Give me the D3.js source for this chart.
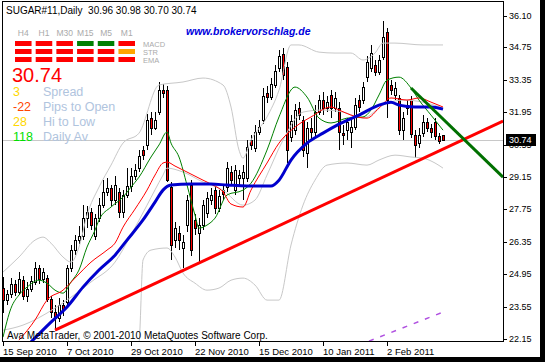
<!DOCTYPE html>
<html>
<head>
<meta charset="utf-8">
<script src="https://cdn.jsdelivr.net/npm/d3@7/dist/d3.min.js"></script>
<style>
  body { margin: 0; background: #fff; }
  text { font-family: "Liberation Sans", Arial, sans-serif; }
</style>
</head>
<body>
<div id="chart"></div>
<script>
// daily candles, bar 0 = 15 Sep 2010
const opens = [24.35, 23.83, 24.09, 24.52, 24.17, 24.69, 24.00, 24.30, 24.61, 25.21, 24.74, 24.78, 23.87, 23.31, 23.05, 23.61,
  23.74, 25.21, 25.99, 26.42, 26.59, 27.37, 27.63, 26.59, 27.37, 27.93, 28.50, 28.67, 28.15, 28.50, 27.63, 28.37,
  28.76, 29.19, 29.53, 30.31, 30.53, 31.69, 31.26, 31.95, 32.90, 32.90, 28.71, 26.42, 26.72, 26.08, 27.07, 28.80,
  27.29, 26.72, 27.07, 27.59, 28.15, 28.58, 27.80, 28.58, 28.71, 29.36, 28.58, 29.10, 29.10, 29.10, 30.74, 30.40,
  31.09, 31.61, 32.77, 32.60, 33.12, 33.85, 34.46, 33.90, 30.87, 31.17, 32.12, 31.61, 30.18, 31.26, 31.09, 31.95,
  32.47, 32.12, 32.69, 32.12, 32.12, 31.04, 31.17, 31.09, 31.30, 32.47, 32.47, 33.46, 33.85, 33.98, 33.68, 34.33,
  35.41, 33.12, 32.69, 32.56, 31.17, 32.25, 32.47, 30.96, 30.61, 31.04, 31.52, 31.26, 31.52, 30.91, 30.96];
const highs = [24.82, 24.26, 24.78, 24.69, 25.04, 24.87, 24.61, 24.87, 25.47, 25.34, 25.21, 24.91, 24.00, 23.61, 23.92, 23.83,
  25.34, 26.21, 26.64, 27.03, 27.93, 27.89, 27.80, 27.55, 28.24, 29.01, 29.10, 28.80, 29.19, 28.67, 28.58, 29.53,
  29.53, 29.71, 30.31, 30.48, 31.87, 31.95, 31.95, 33.25, 33.16, 33.07, 28.93, 27.20, 27.03, 26.64, 28.37, 29.01,
  27.55, 27.37, 28.15, 28.50, 28.67, 28.76, 28.58, 28.76, 29.79, 29.62, 29.66, 29.45, 29.66, 30.74, 30.96, 31.39,
  31.61, 32.99, 33.07, 33.42, 33.98, 34.63, 34.72, 34.11, 31.82, 32.30, 32.38, 31.78, 31.52, 31.69, 32.25, 32.69,
  32.82, 32.64, 32.90, 32.82, 32.38, 31.39, 31.69, 31.61, 32.56, 32.69, 33.25, 34.37, 34.85, 34.20, 34.41, 35.88,
  35.58, 33.33, 33.25, 32.69, 31.95, 32.47, 32.64, 31.17, 31.26, 31.82, 31.69, 31.43, 31.69, 31.04, 30.98];
const lows = [23.27, 23.61, 23.92, 24.00, 24.05, 23.83, 23.74, 24.17, 24.48, 24.52, 24.56, 23.74, 23.05, 22.53, 22.88, 23.14,
  23.61, 25.04, 25.77, 26.25, 26.42, 26.94, 26.85, 26.42, 27.20, 27.80, 28.32, 27.89, 27.93, 27.37, 27.37, 28.24,
  28.50, 29.01, 29.36, 29.88, 30.31, 30.96, 31.17, 31.82, 32.56, 28.93, 25.56, 26.08, 25.99, 25.21, 26.77, 25.73,
  26.64, 25.47, 26.85, 27.37, 27.93, 27.55, 27.63, 28.15, 28.50, 28.76, 28.37, 28.80, 28.15, 28.93, 30.31, 30.22,
  30.96, 31.43, 32.34, 32.47, 32.99, 33.68, 33.33, 29.75, 30.66, 30.96, 31.61, 30.01, 29.53, 30.74, 30.87, 31.82,
  31.82, 31.95, 31.69, 31.95, 30.31, 30.53, 30.74, 30.40, 31.17, 31.95, 32.30, 33.25, 33.68, 33.51, 33.55, 34.20,
  31.69, 32.69, 32.47, 30.96, 30.74, 31.82, 30.83, 29.96, 30.40, 30.87, 31.09, 30.83, 30.74, 30.57, 30.70];
const closes = [23.83, 24.09, 24.52, 24.17, 24.74, 24.00, 24.30, 24.65, 25.21, 24.74, 25.04, 23.87, 23.31, 23.05, 23.61, 23.40,
  25.21, 25.99, 26.42, 26.59, 27.37, 27.63, 27.07, 27.37, 27.93, 28.50, 28.67, 28.15, 28.80, 27.63, 28.37, 28.76,
  29.19, 29.45, 30.05, 30.09, 31.61, 31.26, 31.61, 32.90, 32.77, 29.01, 26.21, 26.94, 26.42, 26.34, 28.15, 25.99,
  26.94, 27.07, 27.93, 28.24, 28.37, 27.80, 28.32, 28.41, 29.53, 29.01, 29.45, 29.23, 29.36, 30.44, 30.53, 31.09,
  31.30, 32.64, 32.60, 33.16, 33.72, 34.37, 33.55, 30.31, 31.56, 32.04, 31.82, 30.31, 31.26, 31.09, 31.95, 32.47,
  32.12, 32.38, 32.12, 32.56, 31.09, 30.96, 31.52, 31.30, 32.25, 32.17, 33.03, 34.11, 34.50, 33.68, 34.20, 35.19,
  32.47, 32.90, 32.99, 31.17, 31.69, 32.12, 31.00, 30.53, 30.96, 31.52, 31.26, 31.09, 30.91, 30.70, 30.74];

// indicators as [bar, price]
const maFast = [[0, 22.23], [2, 23.48], [4, 24.05], [6, 24.39], [9, 24.69], [11, 24.56], [13, 24.26], [15, 24.13], [17, 24.61],
  [19, 25.13], [21, 26.12], [23, 26.85], [24, 27.29], [27, 27.85], [30, 28.28], [32, 28.71], [34, 29.14], [37, 30.01],
  [39, 30.53], [41, 31.09], [42, 30.61], [44, 30.01], [46, 28.80], [48, 27.50], [49, 26.94], [51, 27.07], [53, 27.37],
  [56, 28.37], [60, 28.58], [62, 28.88], [66, 30.31], [69, 31.74], [73, 33.03], [76, 32.60], [79, 31.69], [82, 31.48],
  [86, 31.69], [90, 31.74], [92, 32.04], [94, 32.69], [96, 33.33], [99, 33.46], [102, 32.99], [104, 32.47], [107, 31.82],
  [110, 31.17]];
const maMid = [[4, 22.10], [8, 22.97], [11, 23.83], [15, 24.26], [18, 24.78], [22, 25.47], [26, 25.99], [28, 26.29], [30, 26.98],
  [33, 27.76], [36, 28.58], [38, 29.23], [40, 29.75], [41, 29.79], [43, 29.62], [46, 29.36], [50, 29.01], [52, 28.84],
  [55, 28.50], [57, 27.98], [60, 27.85], [62, 28.58], [66, 29.75], [69, 30.61], [73, 31.30], [77, 31.74], [82, 32.17],
  [84, 32.04], [87, 31.82], [91, 31.69], [94, 32.12], [97, 32.56], [101, 32.47], [104, 32.56], [107, 32.38], [110, 32.17]];
const maSlow = [[7, 22.02], [12, 22.88], [16, 23.53], [20, 24.39], [24, 25.13], [28, 25.77], [31, 26.42], [35, 27.29], [38, 28.06],
  [40, 28.58], [42, 28.80], [47, 28.84], [52, 28.84], [56, 28.80], [61, 28.76], [67, 28.76], [69, 29.01], [72, 29.88],
  [76, 30.61], [80, 31.04], [84, 31.43], [89, 31.82], [94, 32.25], [97, 32.38], [99, 32.25], [103, 32.17], [107, 32.17],
  [110, 32.08]];
const bandUpper = [[0, 25.04], [4, 25.69], [8, 26.42], [10, 26.55], [12, 26.29], [15, 25.69], [17, 25.47], [19, 26.12], [21, 27.50],
  [24, 28.71], [27, 29.66], [30, 30.61], [34, 31.04], [39, 33.12], [45, 33.25], [50, 33.42], [55, 33.12], [57, 32.17],
  [59, 30.31], [60, 29.96], [62, 30.74], [66, 31.74], [69, 32.90], [72, 34.85], [74, 34.85], [79, 34.54], [83, 34.50],
  [87, 34.50], [90, 34.20], [93, 34.50], [95, 34.93], [98, 34.93], [105, 34.85], [110, 34.85]];
const bandMiddle = [[0, 22.53], [5, 22.75], [11, 23.27], [16, 23.83], [22, 24.61], [28, 25.47], [32, 26.64], [36, 27.93],
  [40, 29.23], [41, 29.53], [45, 29.36], [50, 28.93], [55, 28.58], [60, 27.93], [63, 28.15], [66, 29.23], [70, 30.74],
  [75, 31.95], [80, 32.04], [85, 31.95], [90, 31.69], [95, 32.25], [100, 32.47], [105, 32.38], [110, 32.12]];
const bandLower = [[0, 21.00], [20, 20.60], [30, 20.80], [34, 22.00], [35, 25.56], [37, 25.99], [41, 26.08], [43, 25.69],
  [45, 25.00], [48, 24.56], [51, 24.26], [54, 24.35], [57, 24.69], [60, 24.78], [63, 24.48], [66, 23.83], [69, 23.83],
  [72, 26.21], [75, 27.93], [78, 29.01], [81, 29.66], [86, 29.75], [91, 29.66], [94, 29.88], [98, 30.09], [102, 30.01],
  [105, 29.96], [108, 29.75], [110, 29.53]];
const trendUp = [[13, 22.53], [125, 31.56]];
const trendDown = [[102, 32.99], [125, 29.14]];
const purpleLine = [[91.5, 22.06], [110, 23.31]];

const dateTicks = [0, 16, 32, 48, 64, 80, 96];
const dateLabels = ['15 Sep 2010', '7 Oct 2010', '29 Oct 2010', '22 Nov 2010', '15 Dec 2010', '10 Jan 2011', '2 Feb 2011'];
const priceTicks = ['36.10', '34.75', '33.35', '31.95', '30.55', '29.15', '27.75', '26.35', '24.95', '23.55', '22.15'];
const lastPrice = 30.74;

const frames = ['H4', 'H1', 'M30', 'M15', 'M5', 'M1'];
const signalRows = ['MACD', 'STR', 'EMA'];
const signalColors = [
  ['#ff0000', '#ff0000', '#ff0000', '#008000', '#008000', '#ff0000'],
  ['#ff0000', '#ff0000', '#ff0000', '#ff0000', '#ff0000', '#ffa500'],
  ['#ff0000', '#ff0000', '#ff0000', '#ff0000', '#ff0000', '#ff0000'],
];
const statValues = ['3', '-22', '28', '118'];
const statNames = ['Spread', 'Pips to Open', 'Hi to Low', 'Daily Av'];
const statColors = ['#ffd700', '#ff4500', '#ffd700', '#00e000'];

class CandleChart {
  constructor(node) {
    this.container = d3.select(node);
    this.setupVar();
    this.setupUtils();
    this.setupDOM();
  }

  setupVar() {
    this.width = 545;
    this.height = 362;
    this.plot = { left: 2, top: 1, right: 503, bottom: 341 };
  }

  setupUtils() {
    this.x = d3.scaleLinear().domain([0, 110]).range([3, 443]);
    this.y = d3.scaleLinear().domain([22.15, 36.10]).range([339, 16]);
    this.line = d3.line()
      .x((d) => this.x(d[0]))
      .y((d) => this.y(d[1]))
      .curve(d3.curveMonotoneX);
  }

  setupDOM() {
    this.svg = this.container.append('svg')
      .attr('width', this.width)
      .attr('height', this.height)
      .style('display', 'block');
    this.svg.append('rect').attr('width', this.width).attr('height', this.height).attr('fill', '#fff');
    this.svg.append('defs').append('clipPath').attr('id', 'clip')
      .append('rect')
      .attr('x', this.plot.left + 1).attr('y', this.plot.top + 1)
      .attr('width', this.plot.right - this.plot.left - 1)
      .attr('height', this.plot.bottom - this.plot.top - 1);
    this.plots = this.svg.append('g').attr('clip-path', 'url(#clip)');
  }

  drawGraph() {
    const x = this.x;
    const y = this.y;
    const p = this.plot;

    // current price line
    this.plots.append('line')
      .attr('x1', p.left).attr('x2', p.right)
      .attr('y1', Math.round(y(lastPrice)) + 0.5).attr('y2', Math.round(y(lastPrice)) + 0.5)
      .attr('stroke', '#c8c8c8');

    const bars = d3.range(closes.length).map((i) => ({
      i, o: opens[i], h: highs[i], l: lows[i], c: closes[i],
    }));
    const candle = this.plots.selectAll('g.candle').data(bars).enter()
      .append('g').attr('class', 'candle').attr('shape-rendering', 'crispEdges');
    candle.append('rect')
      .attr('x', (d) => Math.round(x(d.i)))
      .attr('y', (d) => Math.round(y(d.h)))
      .attr('width', 1)
      .attr('height', (d) => Math.max(1, Math.round(y(d.l)) - Math.round(y(d.h))))
      .attr('fill', '#000');
    candle.append('rect')
      .attr('x', (d) => Math.round(x(d.i)) - 1)
      .attr('y', (d) => Math.round(y(Math.max(d.o, d.c))))
      .attr('width', 3)
      .attr('height', (d) => Math.max(1, Math.round(y(Math.min(d.o, d.c))) - Math.round(y(Math.max(d.o, d.c))) + 1))
      .attr('fill', '#000');
    candle.filter((d) => Math.round(y(Math.min(d.o, d.c))) - Math.round(y(Math.max(d.o, d.c))) >= 2)
      .append('rect')
      .attr('x', (d) => Math.round(x(d.i)))
      .attr('y', (d) => Math.round(y(Math.max(d.o, d.c))) + 1)
      .attr('width', 1)
      .attr('height', (d) => Math.round(y(Math.min(d.o, d.c))) - Math.round(y(Math.max(d.o, d.c))) - 1)
      .attr('fill', (d) => (d.c < d.o ? '#ff0000' : '#fff'));

    // bollinger bands
    [bandUpper, bandMiddle, bandLower].forEach((band) => {
      this.plots.append('path').attr('d', this.line(band))
        .attr('fill', 'none').attr('stroke', '#c8c8c8').attr('stroke-width', 1);
    });

    this.plots.append('path').attr('d', this.line(maFast))
      .attr('fill', 'none').attr('stroke', '#008000').attr('stroke-width', 1);
    this.plots.append('path').attr('d', this.line(maMid))
      .attr('fill', 'none').attr('stroke', '#ff0000').attr('stroke-width', 1);
    this.plots.append('path').attr('d', this.line(maSlow))
      .attr('fill', 'none').attr('stroke', '#0000cd').attr('stroke-width', 3);

    const straight = d3.line().x((d) => x(d[0])).y((d) => y(d[1]));
    this.plots.append('path').attr('d', straight(trendUp))
      .attr('fill', 'none').attr('stroke', '#ff0000').attr('stroke-width', 3);
    this.plots.append('path').attr('d', straight(trendDown))
      .attr('fill', 'none').attr('stroke', '#007000').attr('stroke-width', 3);
    this.plots.append('path').attr('d', straight(purpleLine))
      .attr('fill', 'none').attr('stroke', '#b050e0').attr('stroke-width', 1.5)
      .attr('stroke-dasharray', '5,7');

    // frame
    this.svg.append('rect')
      .attr('x', p.left + 0.5).attr('y', p.top + 0.5)
      .attr('width', p.right - p.left).attr('height', p.bottom - p.top)
      .attr('fill', 'none').attr('stroke', '#000');

    // price axis
    const yAxis = this.svg.append('g');
    yAxis.selectAll('line').data(priceTicks).enter().append('line')
      .attr('x1', p.right).attr('x2', p.right + 4)
      .attr('y1', (d) => Math.round(y(+d)) + 0.5).attr('y2', (d) => Math.round(y(+d)) + 0.5)
      .attr('stroke', '#000');
    yAxis.selectAll('text').data(priceTicks).enter().append('text')
      .attr('x', p.right + 6).attr('y', (d) => y(+d)).attr('dy', '0.35em')
      .attr('font-size', '9px').text((d) => d);
    yAxis.append('rect')
      .attr('x', p.right + 3).attr('y', Math.round(y(lastPrice)) - 6)
      .attr('width', 30).attr('height', 12).attr('fill', '#000');
    yAxis.append('text')
      .attr('x', p.right + 6).attr('y', y(lastPrice)).attr('dy', '0.35em')
      .attr('font-size', '9px').attr('fill', '#fff').text(lastPrice.toFixed(2));

    // date axis
    const xAxis = this.svg.append('g');
    xAxis.selectAll('line').data(dateTicks).enter().append('line')
      .attr('x1', (d) => Math.round(x(d)) + 0.5).attr('x2', (d) => Math.round(x(d)) + 0.5)
      .attr('y1', p.bottom).attr('y2', p.bottom + 5)
      .attr('stroke', '#000');
    xAxis.selectAll('text').data(dateTicks).enter().append('text')
      .attr('x', (d) => Math.round(x(d))).attr('y', 355)
      .attr('font-size', '9.5px').text((d, i) => dateLabels[i]);

    // outer dark edges
    this.svg.append('rect').attr('x', 0).attr('y', 357).attr('width', this.width).attr('height', 5).attr('fill', '#000');
    this.svg.append('rect').attr('x', 540).attr('y', 0).attr('width', 5).attr('height', this.height).attr('fill', '#000');

    this.drawPanel();
  }

  drawPanel() {
    const g = this.svg.append('g');
    g.append('text').attr('x', 6).attr('y', 14).attr('font-size', '10px')
      .text(`SUGAR#11,Daily  ${opens[110].toFixed(2)} ${highs[110].toFixed(2)} ${lows[110].toFixed(2)} ${closes[110].toFixed(2)}`)
      .attr('xml:space', 'preserve').style('white-space', 'pre');

    g.append('text').attr('x', 186).attr('y', 35)
      .attr('font-size', '10.5px').attr('font-weight', 'bold').attr('font-style', 'italic')
      .attr('fill', '#0000dd').text('www.brokervorschlag.de');

    const col = d3.scaleBand().domain(frames).range([15, 135]).paddingInner(0.2);
    g.selectAll('text.frame').data(frames).enter().append('text')
      .attr('class', 'frame')
      .attr('x', (d) => col(d) + col.bandwidth() / 2).attr('y', 36)
      .attr('text-anchor', 'middle').attr('font-size', '8.5px').attr('fill', '#aaaaaa')
      .text((d) => d);
    signalRows.forEach((row, r) => {
      const ry = [41, 49, 57][r];
      g.selectAll(`rect.sig${r}`).data(frames).enter().append('rect')
        .attr('x', (d) => col(d)).attr('y', ry)
        .attr('width', col.bandwidth()).attr('height', 5)
        .attr('fill', (d, i) => signalColors[r][i]);
      g.append('text').attr('x', 143).attr('y', ry + 5.5).attr('font-size', '7.5px')
        .attr('fill', '#aaaaaa').text(row);
    });

    g.append('text').attr('x', 12).attr('y', 82).attr('font-size', '20px')
      .attr('fill', '#ff0000').text(lastPrice.toFixed(2));
    statNames.forEach((name, i) => {
      const by = 96 + i * 15;
      g.append('text').attr('x', 13).attr('y', by).attr('font-size', '12.5px')
        .attr('fill', statColors[i]).text(statValues[i]);
      g.append('text').attr('x', 43).attr('y', by).attr('font-size', '12.5px')
        .attr('fill', '#b0c4de').text(name);
    });

    g.append('text').attr('x', 7).attr('y', 339).attr('font-size', '10px')
      .text('Ava MetaTrader, © 2001-2010 MetaQuotes Software Corp.');
  }
}

const chart = new CandleChart(document.getElementById('chart'));
chart.drawGraph();
</script>
</body>
</html>
